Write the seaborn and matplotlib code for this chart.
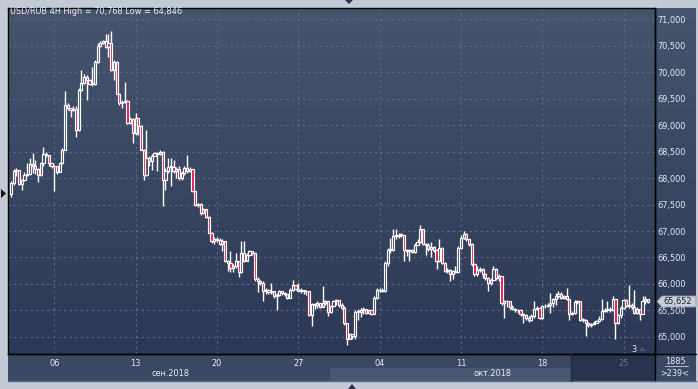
import numpy as np
import pandas as pd
import seaborn as sns
import matplotlib.pyplot as plt
from matplotlib.patches import Rectangle, Polygon
from matplotlib.lines import Line2D
from matplotlib.colors import LinearSegmentedColormap

# USD/RUB 4H bars, 03.09.2018 - 26.10.2018
first_open = 67.69
closes = [
    67.91, 68.14, 68.16, 67.89, 67.96, 68.06, 68.08, 68.27, 68.22, 68.17,
    68.06, 68.28, 68.46, 68.44, 68.28, 68.22, 68.22, 68.12, 68.28, 68.53,
    69.38, 69.33, 69.28, 69.31, 68.91, 69.66, 69.79, 69.91, 69.84, 69.78,
    69.77, 70.19, 70.50, 70.54, 70.58, 70.47, 70.54, 70.03, 70.19, 69.59,
    69.41, 69.44, 69.46, 69.03, 69.12, 68.84, 69.13, 68.98, 68.53, 68.06,
    68.38, 68.33, 68.42, 68.47, 68.46, 68.49, 67.97, 68.14, 68.21, 68.21,
    68.13, 68.17, 68.00, 68.09, 68.19, 68.13, 68.17, 67.75, 67.50, 67.51,
    67.34, 67.41, 67.27, 66.97, 66.81, 66.84, 66.83, 66.75, 66.81, 66.44,
    66.39, 66.31, 66.34, 66.44, 66.22, 66.59, 66.44, 66.54, 66.62, 66.59,
    66.09, 66.06, 66.02, 65.86, 65.89, 65.84, 65.86, 65.77, 65.80, 65.86,
    65.83, 65.82, 65.73, 65.89, 65.99, 65.91, 65.87, 65.89, 65.86, 65.86,
    65.42, 65.63, 65.60, 65.64, 65.56, 65.65, 65.67, 65.48, 65.58, 65.67,
    65.69, 65.61, 65.54, 65.26, 64.97, 65.06, 65.01, 65.48, 65.48, 65.50,
    65.53, 65.45, 65.50, 65.44, 65.73, 65.88, 65.89, 65.86, 66.40, 66.65,
    66.64, 66.91, 66.91, 66.93, 66.93, 66.65, 66.62, 66.64, 66.60, 66.73,
    66.79, 67.03, 66.75, 66.73, 66.66, 66.70, 66.64, 66.43, 66.68, 66.40,
    66.24, 66.27, 66.18, 66.24, 66.22, 66.68, 66.87, 66.94, 66.84, 66.75,
    66.37, 66.18, 66.27, 66.28, 66.18, 66.11, 66.02, 66.08, 66.28, 66.11,
    66.15, 65.64, 65.67, 65.67, 65.56, 65.53, 65.50, 65.51, 65.43, 65.41,
    65.36, 65.33, 65.39, 65.52, 65.55, 65.36, 65.58, 65.59, 65.61, 65.64,
    65.71, 65.77, 65.82, 65.74, 65.77, 65.71, 65.43, 65.46, 65.66, 65.68,
    65.33, 65.32, 65.27, 65.22, 65.24, 65.27, 65.30, 65.34, 65.49, 65.51,
    65.53, 65.51, 65.71, 65.27, 65.41, 65.55, 65.69, 65.59, 65.61, 65.57,
    65.46, 65.53, 65.44, 65.68, 65.71, 65.652,
]
highs = [
    67.94, 68.17, 68.18, 68.16, 67.98, 68.11, 68.28, 68.37, 68.48, 68.34,
    68.19, 68.31, 68.59, 68.50, 68.44, 68.29, 68.25, 68.23, 68.31, 68.56,
    69.64, 69.42, 69.33, 69.36, 69.36, 69.69, 70.03, 69.96, 69.94, 69.86,
    70.09, 70.22, 70.54, 70.58, 70.61, 70.71, 70.72, 70.768, 70.22, 70.21,
    69.61, 69.47, 69.81, 69.48, 69.16, 69.14, 69.22, 69.04, 69.00, 68.54,
    68.91, 68.42, 68.46, 68.50, 68.49, 68.53, 68.51, 68.19, 68.38, 68.38,
    68.34, 68.21, 68.22, 68.13, 68.23, 68.44, 68.21, 68.17, 67.76, 67.53,
    67.52, 67.44, 67.42, 67.28, 66.98, 66.88, 66.88, 66.86, 66.84, 66.79,
    66.46, 66.63, 66.38, 66.59, 66.44, 66.81, 66.81, 66.59, 66.64, 66.63,
    66.61, 66.13, 66.08, 66.05, 65.92, 65.91, 66.02, 65.86, 65.83, 65.88,
    65.86, 65.84, 65.82, 65.92, 66.08, 65.97, 66.02, 65.92, 65.88, 65.89,
    65.86, 65.65, 65.64, 65.67, 65.65, 65.96, 65.70, 65.67, 65.61, 65.70,
    65.72, 65.70, 65.64, 65.58, 65.27, 65.08, 65.06, 65.51, 65.53, 65.54,
    65.56, 65.53, 65.53, 65.50, 65.77, 65.92, 65.92, 65.92, 66.43, 66.68,
    66.87, 67.04, 67.03, 66.97, 66.96, 66.92, 66.66, 66.66, 66.66, 66.78,
    66.84, 67.11, 67.03, 66.77, 66.78, 66.79, 66.72, 66.66, 66.84, 66.70,
    66.41, 66.30, 66.28, 66.27, 66.34, 66.72, 66.92, 67.00, 66.97, 66.85,
    66.77, 66.39, 66.34, 66.32, 66.30, 66.21, 66.13, 66.11, 66.34, 66.30,
    66.18, 66.13, 65.70, 65.70, 65.68, 65.61, 65.55, 65.53, 65.52, 65.46,
    65.43, 65.39, 65.43, 65.68, 65.58, 65.57, 65.61, 65.63, 65.64, 65.83,
    65.74, 65.83, 65.86, 65.84, 65.80, 65.93, 65.72, 65.49, 65.69, 65.69,
    65.68, 65.36, 65.34, 65.28, 65.27, 65.30, 65.33, 65.39, 65.71, 65.55,
    65.68, 65.57, 65.77, 65.72, 65.44, 65.58, 65.72, 65.71, 65.99, 65.64,
    65.89, 65.57, 65.53, 65.77, 65.77, 65.69,
]
lows = [
    67.64, 67.87, 68.03, 67.87, 67.77, 67.94, 68.03, 68.06, 68.09, 68.08,
    67.92, 68.03, 68.22, 68.39, 68.22, 68.19, 67.75, 68.08, 68.11, 68.27,
    68.52, 69.28, 69.16, 69.27, 68.78, 68.88, 69.64, 69.78, 69.47, 69.75,
    69.73, 69.75, 70.17, 70.47, 70.52, 70.46, 70.28, 70.02, 69.84, 69.58,
    69.38, 69.33, 69.42, 69.02, 69.02, 68.66, 68.81, 68.81, 68.52, 67.97,
    68.04, 68.22, 68.16, 68.41, 68.13, 68.44, 67.47, 67.78, 68.09, 67.84,
    68.09, 68.00, 67.96, 67.96, 68.06, 68.09, 68.11, 67.73, 67.47, 67.46,
    67.31, 67.33, 67.24, 66.96, 66.77, 66.75, 66.79, 66.73, 66.63, 66.41,
    66.25, 66.22, 66.23, 66.31, 66.13, 66.21, 66.42, 66.46, 66.53, 66.55,
    66.06, 65.84, 65.99, 65.67, 65.82, 65.82, 65.82, 65.73, 65.51, 65.78,
    65.80, 65.78, 65.72, 65.73, 65.86, 65.88, 65.86, 65.83, 65.82, 65.80,
    65.40, 65.21, 65.53, 65.54, 65.54, 65.59, 65.61, 65.39, 65.46, 65.56,
    65.61, 65.56, 65.53, 65.23, 64.846, 64.96, 64.96, 64.97, 65.32, 65.37,
    65.44, 65.43, 65.44, 65.42, 65.43, 65.72, 65.84, 65.84, 65.84, 66.34,
    66.59, 66.62, 66.85, 66.87, 66.89, 66.43, 66.53, 66.43, 66.58, 66.59,
    66.73, 66.77, 66.73, 66.54, 66.62, 66.51, 66.60, 66.28, 66.41, 66.38,
    66.22, 66.20, 66.05, 66.09, 66.20, 66.21, 66.66, 66.84, 66.81, 66.72,
    66.34, 66.15, 66.16, 66.22, 66.11, 66.08, 65.86, 65.99, 66.07, 66.08,
    66.05, 65.61, 65.35, 65.56, 65.53, 65.51, 65.47, 65.46, 65.39, 65.26,
    65.33, 65.28, 65.30, 65.36, 65.51, 65.34, 65.34, 65.55, 65.57, 65.46,
    65.57, 65.61, 65.74, 65.71, 65.71, 65.69, 65.32, 65.41, 65.44, 65.63,
    65.30, 65.28, 65.01, 65.18, 65.19, 65.22, 65.26, 65.28, 65.32, 65.47,
    65.47, 65.48, 65.49, 64.96, 65.24, 65.36, 65.52, 65.57, 65.55, 65.53,
    65.43, 65.44, 65.33, 65.43, 65.63, 65.64,
]

price_ticks = [65.0, 65.5, 66.0, 66.5, 67.0, 67.5, 68.0, 68.5, 69.0, 69.5, 70.0, 70.5, 71.0]
day_bars = [16, 46, 76, 106, 136, 166, 196, 226]
day_labels = ['06', '13', '20', '27', '04', '11', '18', '25']
month_labels = ['сен.2018', 'окт.2018']

df = pd.DataFrame({'close': closes, 'high': highs, 'low': lows})
df['open'] = [first_open] + closes[:-1]
df['bar'] = np.arange(len(df))
df['top'] = df[['open', 'close']].max(axis=1)
df['bot'] = df[['open', 'close']].min(axis=1)
df['up'] = df['close'] >= df['open']

sns.set_theme(style='dark')
plt.rcParams['font.family'] = ['DejaVu Sans']
FS = 5.9
TXT = '#e6ecf6'

W, H = 698, 389
fig = plt.figure(figsize=(W / 100, H / 100), dpi=100)
fig.patch.set_facecolor('#c2cad6')


def box(x0, y0, x1, y1):
    # pixel box (origin top-left) -> figure fraction rect
    return [x0 / W, 1 - y1 / H, (x1 - x0) / W, (y1 - y0) / H]


def rect(x0, y0, x1, y1, color, z=-1):
    fig.add_artist(Rectangle((x0 / W, 1 - y1 / H), (x1 - x0) / W, (y1 - y0) / H,
                             transform=fig.transFigure, facecolor=color,
                             edgecolor='none', zorder=z))


def line(x0, y0, x1, y1, color='black', lw=1.0, z=5):
    fig.add_artist(Line2D([x0 / W, x1 / W], [1 - y0 / H, 1 - y1 / H],
                          transform=fig.transFigure, color=color, lw=lw, zorder=z))


def tri(pts, color):
    fig.add_artist(Polygon([(x / W, 1 - y / H) for x, y in pts], closed=True,
                           transform=fig.transFigure, facecolor=color,
                           edgecolor='none', zorder=6))


grad = LinearSegmentedColormap.from_list('bg', ['#2c3855', '#46546e'])
gvals = np.linspace(0, 1, 256).reshape(-1, 1)

# right price panel background
ax_r = fig.add_axes(box(655, 8, 696, 354))
ax_r.imshow(gvals, cmap=grad, aspect='auto', origin='lower', extent=(0, 1, 0, 1))
ax_r.set_axis_off()

# bottom date strip
rect(8, 354, 655, 381, '#3b4864')
rect(330, 368, 572, 381, '#4a5773')
rect(572, 354, 655, 381, '#28334e')
rect(655, 354, 696, 381, '#3b4864')

ax = fig.add_axes(box(8, 8, 655, 354))
xlim = (-1.07, 237.6)
ylim = (64.679, 71.208)
ax.imshow(gvals, cmap=grad, aspect='auto', origin='lower',
          extent=(xlim[0], xlim[1], ylim[0], ylim[1]), zorder=0)

# wicks (kept outside the body so hollow candles stay hollow)
ax.vlines(df['bar'], df['low'], df['bot'], color='white', lw=1.0, zorder=3)
ax.vlines(df['bar'], df['top'], df['high'], color='white', lw=1.0, zorder=3)
height = (df['top'] - df['bot']).clip(lower=0.014)
up = df[df['up']]
dn = df[~df['up']]
ax.bar(up['bar'], height[df['up']], bottom=up['bot'], width=0.8,
       facecolor='none', edgecolor='white', linewidth=0.85, zorder=4)
ax.bar(dn['bar'], height[~df['up']], bottom=dn['bot'], width=0.8,
       facecolor='#e8144a', edgecolor='white', linewidth=0.85, zorder=4)

ax.set_xlim(*xlim)
ax.set_ylim(*ylim)
ax.set_axisbelow(True)
ax.grid(True, color='#5b6a87', linestyle=(0, (2, 3)), linewidth=0.8)

ax.yaxis.tick_right()
ax.set_yticks(price_ticks)
ax.set_yticklabels([f'{v:.3f}'.replace('.', ',') for v in price_ticks])
ax.set_xticks(day_bars)
ax.set_xticklabels(day_labels)
ax.tick_params(axis='both', length=0, labelsize=FS, labelcolor=TXT)
ax.tick_params(axis='y', pad=2)
ax.tick_params(axis='x', pad=3.5)
ax.get_xticklabels()[-1].set_color('#6a7690')
ax.set_xlabel('')
ax.set_ylabel('')
for s in ax.spines.values():
    s.set_visible(True)
    s.set_color('black')
    s.set_linewidth(1.0)

# frame lines
line(655, 8, 655, 381)
line(8, 354, 696, 354)
line(8, 381, 696, 381, color='#5d6880')
line(571, 354, 571, 381, color='#222a3e')

# labels
fig.text(10 / W, 1 - 12 / H,
         f'USD/RUB 4H High = {max(highs):.3f} Low = {min(lows):.3f}'.replace('.', ','),
         fontsize=FS, color='#f0f3f8', va='center', ha='left')
fig.text(171 / W, 1 - 374 / H, month_labels[0], fontsize=FS, color=TXT,
         ha='center', va='center')
fig.text(493 / W, 1 - 374 / H, month_labels[1], fontsize=FS, color=TXT,
         ha='center', va='center')
fig.text(675 / W, 1 - 361 / H, '1885', fontsize=FS, color=TXT, ha='center', va='center')
line(665, 366, 688, 366, color='#aab4c6', lw=0.8)
fig.text(675 / W, 1 - 374 / H, '>239<', fontsize=FS, color=TXT, ha='center', va='center')

# last price tag
fig.add_artist(Polygon([(x / W, 1 - y / H) for x, y in
                        [(657, 301.5), (662, 296), (696, 296), (696, 307), (662, 307)]],
                       closed=True, transform=fig.transFigure, facecolor='#c9ced7',
                       edgecolor='#8e98aa', lw=0.6, zorder=6))
fig.text(663 / W, 1 - 301.5 / H, f'{closes[-1]:.3f}'.replace('.', ','), fontsize=FS,
         color='#1b2233', ha='left', va='center', zorder=7)

fig.text(634 / W, 1 - 349 / H, '3', fontsize=FS, color=TXT, ha='center', va='center')
tri([(639, 351), (646, 351), (642.5, 347)], '#4d586e')

# scroll markers
tri([(1, 189), (6, 193.5), (1, 198)], '#111111')
tri([(345, 0), (353, 0), (349, 4)], '#2a3448')
tri([(348, 389), (356, 389), (352, 384)], '#2a3448')

fig.savefig('out.png', dpi=100, facecolor=fig.get_facecolor())
